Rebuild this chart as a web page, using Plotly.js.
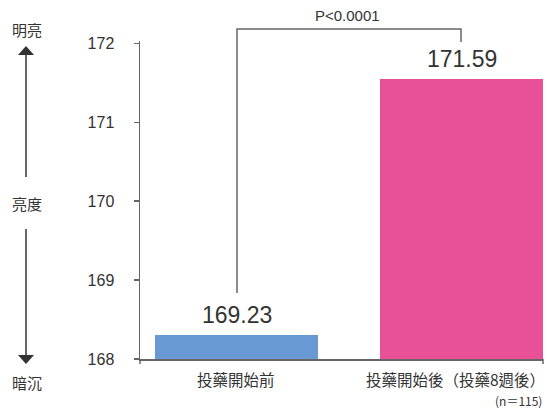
<!DOCTYPE html>
<html>
<head>
<meta charset="utf-8">
<script src="https://cdn.plot.ly/plotly-3.0.1.min.js"></script>
<style>html,body{margin:0;padding:0;background:#fff;}#chart{width:547px;height:408px;}</style>
</head>
<body>
<div id="chart"></div>
<script>
// Data
var categories = ["投藥開始前", "投藥開始後（投藥8週後）"];
var barHeights = [168.3, 171.55];          // heights as drawn in the picture
var valueLabels = ["169.23", "171.59"];    // printed values
var barColors = ["#6899d2", "#e85197"];
var yTicks = [168, 169, 170, 171, 172];
var pText = "P<0.0001";
var nText = "(n＝115)";
var topLabel = "明亮", midLabel = "亮度", bottomLabel = "暗沉";

var L = 140, R = 4, T = 41, B = 49, W = 547, H = 408;
var PW = W - L - R, PH = H - T - B;
function fx(px){ return (px - L) / PW; }
function fy(py){ return (H - B - py) / PH; }

var cjk = '"Noto Sans CJK TC", "Noto Sans CJK SC", sans-serif';
var latin = '"Liberation Sans", Arial, sans-serif';

var trace = {
  type: 'bar',
  x: [0, 1],
  y: barHeights,
  base: 0,
  width: 0.724,
  marker: {color: barColors, line: {width: 0}},
  hoverinfo: 'none'
};

var annotations = valueLabels.map(function(t, i){
  return {x: i, y: barHeights[i], xref: 'x', yref: 'y', text: t, showarrow: false,
    xanchor: 'center', yanchor: 'bottom', yshift: 5, font: {family: latin, size: 23, color: '#333'}};
});
var catShift = [-1, -6];
categories.forEach(function(c, i){
  annotations.push({x: i, xref: 'x', yref: 'paper', y: fy(379), text: c, showarrow: false,
    xanchor: 'center', yanchor: 'middle', xshift: catShift[i], font: {family: cjk, size: 15.5, color: '#333'}});
});
annotations.push({xref: 'paper', yref: 'paper', x: fx(347), y: fy(16), text: pText, showarrow: false,
  xanchor: 'center', yanchor: 'middle', font: {family: latin, size: 15, color: '#333'}});
annotations.push({xref: 'paper', yref: 'paper', x: fx(544), y: fy(400), xanchor: 'right', yanchor: 'middle', text: nText, showarrow: false,
  font: {family: cjk, size: 12, color: '#333'}});
[[topLabel, 29], [midLabel, 203], [bottomLabel, 382]].forEach(function(a){
  annotations.push({xref: 'paper', yref: 'paper', x: fx(27), y: fy(a[1]), text: a[0], showarrow: false,
    xanchor: 'center', yanchor: 'middle', font: {family: cjk, size: 15, color: '#333'}});
});

var ln = {color: '#333', width: 1.5};
var gl = {color: '#666', width: 1.5};
function P(px, py){ return fx(px) + ',' + fy(py); }
var shapes = [
  {type: 'line', xref: 'paper', yref: 'paper', x0: fx(26), x1: fx(26), y0: fy(54), y1: fy(177), line: ln},
  {type: 'line', xref: 'paper', yref: 'paper', x0: fx(26), x1: fx(26), y0: fy(229), y1: fy(355), line: ln},
  {type: 'path', xref: 'paper', yref: 'paper', path: 'M' + P(26,46) + 'L' + P(18,55) + 'L' + P(34,55) + 'Z', fillcolor: '#333', line: {width: 0}},
  {type: 'path', xref: 'paper', yref: 'paper', path: 'M' + P(26,364) + 'L' + P(18,355) + 'L' + P(34,355) + 'Z', fillcolor: '#333', line: {width: 0}},
  {type: 'path', xref: 'paper', yref: 'paper', path: 'M' + P(237,293) + 'L' + P(237,29) + 'L' + P(461,29) + 'L' + P(461,42), line: gl},
  {type: 'line', xref: 'paper', yref: 'paper', x0: 0, x1: 0, y0: fy(359), y1: fy(364), line: gl},
  {type: 'line', xref: 'paper', yref: 'paper', x0: 1, x1: 1, y0: fy(359), y1: fy(364), line: gl}
];

var layout = {
  width: W, height: H,
  margin: {l: L, r: R, t: T, b: B, pad: 0},
  paper_bgcolor: '#fff', plot_bgcolor: '#fff',
  showlegend: false,
  bargap: 0,
  xaxis: {
    range: [-0.429, 1.362], showticklabels: false,
    showline: true, linecolor: '#666', linewidth: 1.5, ticks: '', showgrid: false, zeroline: false,
    fixedrange: true
  },
  yaxis: {
    range: [168, 172.03], tickvals: yTicks, ticktext: yTicks.map(String),
    showline: true, linecolor: '#666', linewidth: 1.5, ticks: 'outside', ticklen: 5, tickcolor: '#666', tickwidth: 1.5,
    showgrid: false, zeroline: false, ticklabelstandoff: 16,
    tickfont: {family: latin, size: 16, color: '#333'}, fixedrange: true
  },
  annotations: annotations,
  shapes: shapes
};

Plotly.newPlot('chart', [trace], layout, {displayModeBar: false, staticPlot: true});
</script>
</body>
</html>
